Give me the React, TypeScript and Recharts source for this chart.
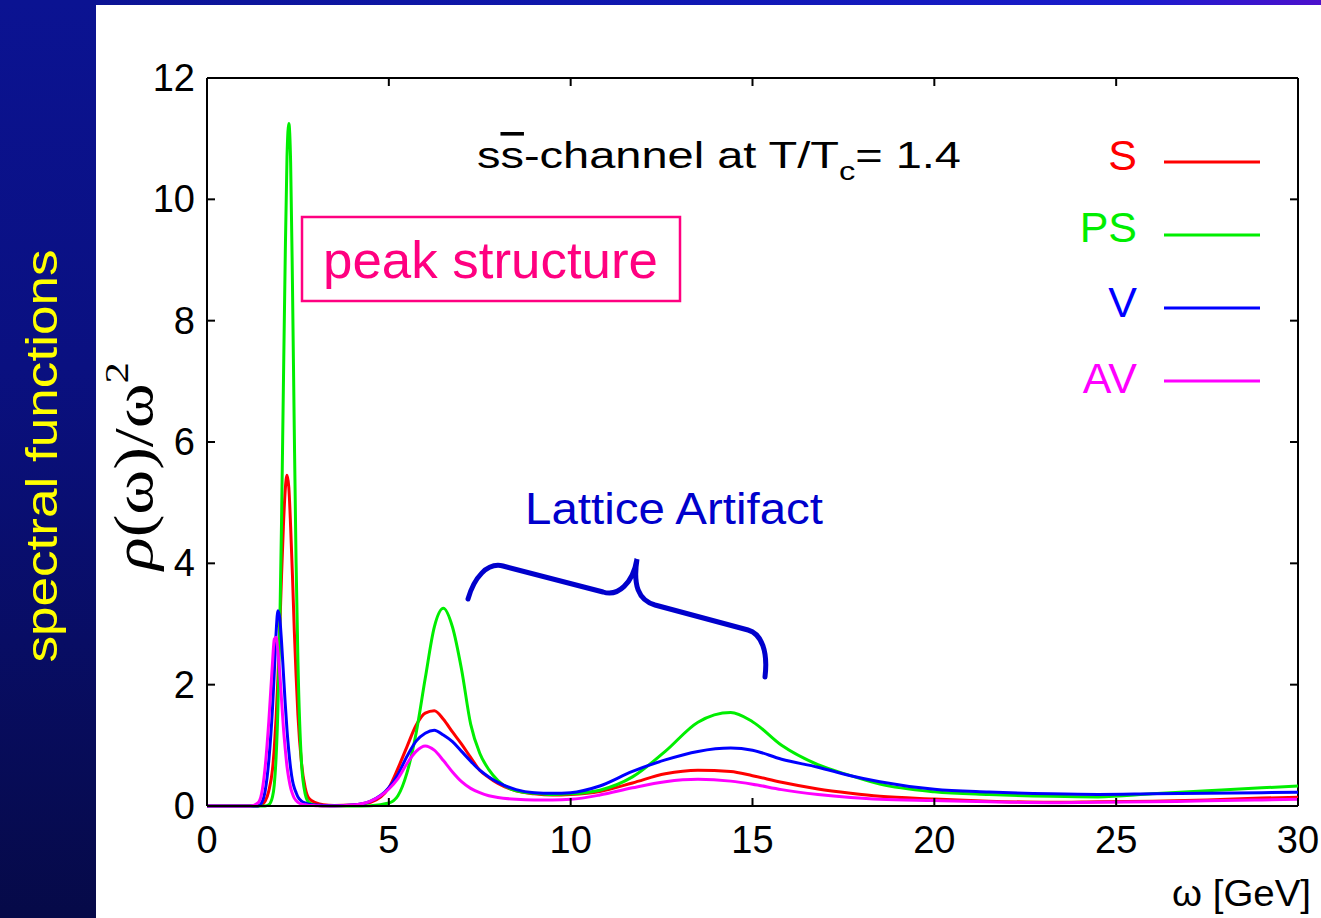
import React from "react";
import { LineChart, Line, XAxis, YAxis, ReferenceLine } from "recharts";

// ---- data ----
const omega = [
  0, 1.2, 1.4, 1.5, 1.6, 1.7, 1.8, 1.85, 1.9, 1.95,
  2.0, 2.05, 2.1, 2.15, 2.2, 2.25, 2.3, 2.35, 2.4, 2.45,
  2.5, 2.6, 2.7, 2.8, 3.0, 3.2, 3.5, 4.0, 4.5, 5.0,
  5.25, 5.5, 5.75, 6.0, 6.25, 6.5, 6.75, 7.0, 7.25, 7.5,
  7.75, 8.0, 8.5, 9.0, 9.5, 10, 10.8, 11.7, 12.6, 13.5,
  14.4, 15, 15.8, 16.8, 17.7, 18.5, 20, 21.5, 23.2, 24.5,
  26, 27.5, 29, 30,
];

const sValues = [
  0, 0, 0, 0.02, 0.08, 0.25, 0.6, 0.95, 1.45, 2.1,
  2.9, 3.8, 4.6, 5.2, 5.45, 5.25, 4.6, 3.8, 2.9, 2.15,
  1.5, 0.7, 0.3, 0.13, 0.05, 0.02, 0.01, 0.015, 0.06, 0.3,
  0.62, 0.98, 1.33, 1.53, 1.57, 1.43, 1.22, 1.02, 0.8, 0.59,
  0.47, 0.37, 0.25, 0.2, 0.18, 0.19, 0.24, 0.38, 0.53, 0.59,
  0.57, 0.5, 0.39, 0.28, 0.21, 0.16, 0.115, 0.08, 0.06, 0.07,
  0.08, 0.1, 0.13, 0.145,
];

const psValues = [
  0, 0, 0, 0, 0, 0.02, 0.15, 0.35, 0.8, 1.6,
  2.9, 4.7, 6.9, 9.0, 10.7, 11.25, 10.6, 8.6, 6.2, 4.0,
  2.4, 0.7, 0.2, 0.06, 0.01, 0, 0, 0, 0.005, 0.05,
  0.17, 0.55, 1.2, 2.1, 2.95, 3.26, 2.95, 2.25, 1.35, 0.87,
  0.6, 0.42, 0.25, 0.21, 0.19, 0.2, 0.26, 0.48, 0.9, 1.38,
  1.54, 1.39, 1.0, 0.68, 0.5, 0.36, 0.235, 0.19, 0.16, 0.15,
  0.2, 0.25, 0.3, 0.33,
];

const vValues = [
  0, 0, 0, 0.05, 0.25, 0.75, 1.6, 2.2, 2.85, 3.22,
  3.1, 2.7, 2.2, 1.7, 1.25, 0.9, 0.62, 0.42, 0.3, 0.22,
  0.15, 0.08, 0.05, 0.03, 0.015, 0.01, 0.005, 0.015, 0.08, 0.3,
  0.52, 0.82, 1.07, 1.2, 1.25, 1.17, 1.06, 0.9, 0.74, 0.59,
  0.48, 0.39, 0.27, 0.22, 0.21, 0.22, 0.33, 0.57, 0.76, 0.9,
  0.955, 0.92, 0.77, 0.64, 0.5, 0.4, 0.275, 0.23, 0.2, 0.19,
  0.2, 0.21, 0.22, 0.225,
];

const avValues = [
  0, 0, 0.05, 0.2, 0.65, 1.4, 2.35, 2.75, 2.78, 2.55,
  2.2, 1.75, 1.3, 0.95, 0.65, 0.45, 0.3, 0.2, 0.13, 0.09,
  0.06, 0.03, 0.02, 0.01, 0.005, 0, 0, 0.015, 0.08, 0.28,
  0.45, 0.7, 0.9, 0.99, 0.92, 0.75, 0.56, 0.4, 0.29, 0.22,
  0.17, 0.14, 0.11, 0.1, 0.1, 0.11, 0.18, 0.3, 0.4, 0.44,
  0.41, 0.36, 0.27, 0.19, 0.14, 0.11, 0.09, 0.07, 0.055, 0.06,
  0.07, 0.085, 0.1, 0.11,
];

const xTicks = [0, 5, 10, 15, 20, 25, 30];
const yTicks = [0, 2, 4, 6, 8, 10, 12];

const seriesNames = ["S", "PS", "V", "AV"];
const seriesColors = ["#ff0000", "#00ee00", "#0000ff", "#ff00ff"];

const data = omega.map((w, i) => ({
  w,
  S: sValues[i],
  PS: psValues[i],
  V: vValues[i],
  AV: avValues[i],
}));

// ---- layout ----
const W = 1321;
const H = 918;
const PLOT = { left: 207, right: 1298, top: 78, bottom: 806 };
const AXIS_W = 60;
const AXIS_H = 60;
const TICK = 8;
const SANS = "'Liberation Sans', Arial, sans-serif";
const SERIF = "'Liberation Serif', 'DejaVu Serif', serif";

const XTick = (props: any) => {
  const { x, payload } = props;
  return (
    <g>
      <line x1={x} x2={x} y1={PLOT.bottom} y2={PLOT.bottom - TICK} stroke="#000" strokeWidth={2} />
      <line x1={x} x2={x} y1={PLOT.top} y2={PLOT.top + TICK} stroke="#000" strokeWidth={2} />
      <text x={x} y={PLOT.bottom + 47} textAnchor="middle" fontFamily={SANS} fontSize={38} fill="#000">
        {payload.value}
      </text>
    </g>
  );
};

const YTick = (props: any) => {
  const { y, payload } = props;
  return (
    <g>
      <line x1={PLOT.left} x2={PLOT.left + TICK} y1={y} y2={y} stroke="#000" strokeWidth={2} />
      <line x1={PLOT.right} x2={PLOT.right - TICK} y1={y} y2={y} stroke="#000" strokeWidth={2} />
      <text x={195} y={y + 13} textAnchor="end" fontFamily={SANS} fontSize={38} fill="#000">
        {payload.value}
      </text>
    </g>
  );
};

const legendBaselines = [170, 242, 317, 393];
const legendLineY = [162, 235, 308, 381];

export default function App() {
  return (
    <div
      style={{
        position: "absolute",
        left: 0,
        top: 0,
        width: W,
        height: H,
        background: "#ffffff",
        overflow: "hidden",
      }}
    >
      {/* slide decoration */}
      <div
        style={{
          position: "absolute",
          left: 0,
          top: 0,
          width: 96,
          height: H,
          background: "linear-gradient(to bottom, #0b1392 0%, #0a1080 40%, #060a48 100%)",
        }}
      />
      <div
        style={{
          position: "absolute",
          left: 96,
          top: 0,
          width: W - 96,
          height: 5,
          background: "linear-gradient(to right, #0c1494 0%, #1018b4 50%, #1a1ccc 85%, #4c10cc 100%)",
        }}
      />

      <div style={{ position: "absolute", left: 0, top: 0 }}>
        <LineChart
          width={W}
          height={H}
          data={data}
          margin={{
            top: PLOT.top,
            right: W - PLOT.right,
            bottom: H - PLOT.bottom - AXIS_H,
            left: PLOT.left - AXIS_W,
          }}
        >
          <XAxis
            dataKey="w"
            type="number"
            domain={[0, 30]}
            ticks={xTicks}
            height={AXIS_H}
            tickLine={false}
            axisLine={{ stroke: "#000", strokeWidth: 2 }}
            tick={XTick}
            interval={0}
          />
          <YAxis
            type="number"
            domain={[0, 12]}
            ticks={yTicks}
            width={AXIS_W}
            tickLine={false}
            axisLine={{ stroke: "#000", strokeWidth: 2 }}
            tick={YTick}
            interval={0}
          />
          <ReferenceLine y={12} stroke="#000" strokeWidth={2} />
          <ReferenceLine x={30} stroke="#000" strokeWidth={2} />
          {seriesNames.map((name, i) => (
            <Line
              key={name}
              type="monotone"
              dataKey={name}
              stroke={seriesColors[i]}
              strokeWidth={3}
              dot={false}
              activeDot={false}
              isAnimationActive={false}
            />
          ))}
        </LineChart>
      </div>

      {/* annotations */}
      <svg
        width={W}
        height={H}
        style={{ position: "absolute", left: 0, top: 0, pointerEvents: "none" }}
      >
        <text
          transform="translate(57,456) rotate(-90)"
          textAnchor="middle"
          fontFamily={SANS}
          fontSize={45}
          fill="#ffff00"
          textLength={413}
          lengthAdjust="spacingAndGlyphs"
        >
          spectral functions
        </text>

        <text
          transform="translate(152,466) rotate(-90)"
          textAnchor="middle"
          fontFamily={SERIF}
          fontSize={54}
          fill="#000"
          textLength={208}
          lengthAdjust="spacingAndGlyphs"
        >
          <tspan fontStyle="italic">ρ</tspan>(ω)/ω
          <tspan fontSize={34} dy={-24}>2</tspan>
        </text>

        <text
          x={477}
          y={168}
          fontFamily={SANS}
          fontSize={36}
          fill="#000"
          textLength={484}
          lengthAdjust="spacingAndGlyphs"
        >
          s<tspan style={{ textDecoration: "overline" }}>s</tspan>-channel at T/T
          <tspan fontSize={25} dy={12}>c</tspan>
          <tspan dy={-12}>= 1.4</tspan>
        </text>

        <rect x={302} y={217} width={378} height={84} fill="none" stroke="#ff0080" strokeWidth={2.5} />
        <text
          x={323}
          y={278}
          fontFamily={SANS}
          fontSize={52}
          fill="#ff0080"
          textLength={335}
          lengthAdjust="spacingAndGlyphs"
        >
          peak structure
        </text>

        <text
          x={525}
          y={524}
          fontFamily={SANS}
          fontSize={44}
          fill="#0000cc"
          textLength={298}
          lengthAdjust="spacingAndGlyphs"
        >
          Lattice Artifact
        </text>
        <path
          d="M 468 599 C 474 578 487 562 503 566 L 603 592 C 618 597 633 583 637 559 C 633 585 638 600 655 605 L 748 630 C 762 634 768 652 765 677"
          fill="none"
          stroke="#0000cc"
          strokeWidth={5}
          strokeLinecap="round"
        />

        {seriesNames.map((name, i) => (
          <g key={name}>
            <text
              x={1137}
              y={legendBaselines[i]}
              textAnchor="end"
              fontFamily={SANS}
              fontSize={43}
              fill={seriesColors[i]}
            >
              {name}
            </text>
            <line x1={1164} x2={1260} y1={legendLineY[i]} y2={legendLineY[i]} stroke={seriesColors[i]} strokeWidth={3} />
          </g>
        ))}

        <text x={1311} y={906} textAnchor="end" fontFamily={SANS} fontSize={36} fill="#000" textLength={139} lengthAdjust="spacingAndGlyphs">
          ω [GeV]
        </text>
      </svg>
    </div>
  );
}
